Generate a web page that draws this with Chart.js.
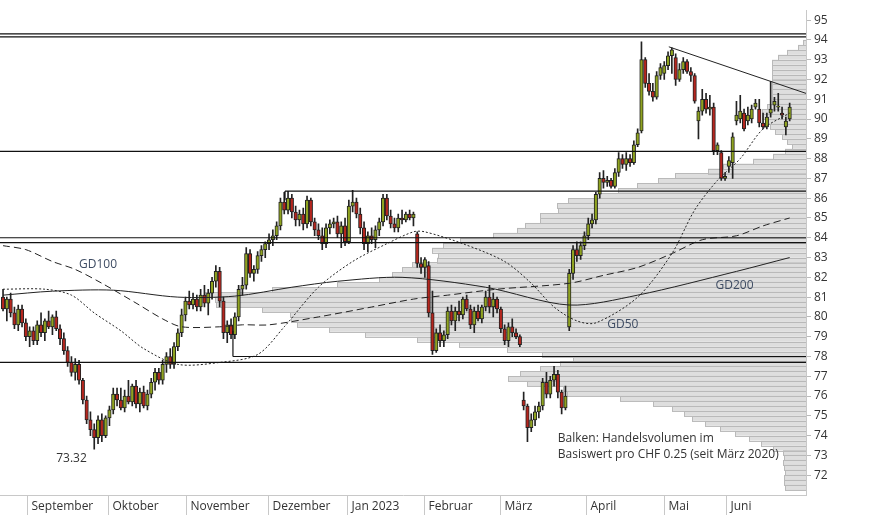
<!DOCTYPE html>
<html><head><meta charset="utf-8">
<script src="https://cdn.jsdelivr.net/npm/chart.js@4"></script>
<style>html,body{margin:0;padding:0;background:#fff}#w{width:874px;height:515px}</style>
</head><body><div id="w"><canvas id="c"></canvas></div>
<script>
// OHLC per trading day [open, high, low, close]
const ohlc = [
[81.0,81.4,80.3,80.4],[80.4,81.0,79.8,80.9],[80.9,81.2,80.0,80.2],[80.2,80.5,79.4,79.6],[79.6,80.6,79.3,80.4],
[80.4,80.6,79.5,79.7],[79.7,79.9,78.8,79.0],[79.0,79.5,78.5,79.3],[79.3,79.5,78.6,78.8],[78.8,79.8,78.6,79.6],
[79.6,80.2,79.0,79.2],[79.2,79.9,78.8,79.8],[79.8,80.3,79.4,79.5],[79.5,80.1,79.1,80.0],[80.0,80.3,79.3,79.4],
[79.4,79.6,78.6,78.9],[78.9,79.2,78.1,78.3],[78.3,78.5,77.5,77.7],[77.7,78.0,77.0,77.2],[77.2,77.9,76.8,77.6],
[77.6,77.8,76.6,76.8],[76.8,76.9,75.6,75.8],[75.8,76.0,74.6,74.8],[74.8,75.2,74.0,74.3],[74.3,74.6,73.32,73.9],
[73.9,75.0,73.6,74.8],[74.8,75.1,73.7,74.0],[74.0,75.0,73.9,74.9],[74.9,75.5,74.5,75.3],[75.3,76.4,75.1,76.1],
[76.1,76.4,75.5,75.8],[75.8,76.4,75.3,75.4],[75.4,76.3,75.2,76.0],[76.0,76.8,75.6,75.7],[75.7,76.6,75.5,76.5],
[76.5,76.8,75.4,75.6],[75.6,76.4,75.2,76.2],[76.2,76.5,75.4,75.5],[75.5,76.3,75.3,76.1],[76.1,76.9,75.9,76.7],
[76.7,77.4,76.3,77.2],[77.2,77.4,76.6,76.8],[76.8,77.8,76.6,77.6],[77.6,78.2,77.2,78.0],[78.0,78.4,77.4,77.6],
[77.6,78.7,77.4,78.5],[78.5,79.4,78.3,79.2],[79.2,80.4,79.0,80.1],[80.1,81.0,79.8,80.8],[80.8,81.3,80.4,80.6],
[80.6,81.2,80.4,80.9],[80.9,81.1,80.3,80.5],[80.5,81.4,80.3,81.1],[81.1,81.6,80.5,80.7],[80.7,81.4,80.1,81.2],
[81.2,82.0,80.9,81.8],[81.8,82.6,81.5,82.3],[82.3,82.5,80.5,80.8],[80.8,81.0,78.9,79.2],[79.2,79.8,78.7,79.6],
[79.6,79.9,78.9,79.1],[79.1,80.2,78.9,80.0],[80.0,81.6,79.8,81.4],[81.4,82.0,81.1,81.6],[81.6,83.5,81.4,83.2],
[83.2,83.4,82.0,82.2],[82.2,82.6,81.8,82.4],[82.4,83.3,82.2,83.1],[83.1,83.6,82.8,83.4],[83.4,83.8,83.0,83.7],
[83.7,84.2,83.4,83.9],[83.9,84.4,83.6,84.1],[84.1,84.8,83.9,84.6],[84.6,86.0,84.4,85.8],[85.8,86.3,85.2,85.4],
[85.4,86.35,85.2,86.0],[86.0,86.2,85.0,85.3],[85.3,85.6,84.6,84.9],[84.9,85.4,84.6,85.2],[85.2,85.5,84.4,84.7],
[84.7,86.1,84.5,85.9],[85.9,86.0,84.6,84.8],[84.8,85.0,84.1,84.4],[84.4,84.7,83.9,84.1],[84.1,84.5,83.4,83.7],
[83.7,84.7,83.5,84.5],[84.5,84.9,84.2,84.7],[84.7,85.0,84.5,84.8],[84.8,85.1,84.0,84.2],[84.2,84.8,83.5,84.6],
[84.6,85.0,83.6,83.8],[83.8,85.9,83.7,85.6],[85.6,86.4,85.3,85.8],[85.8,86.0,85.0,85.2],[85.2,85.5,84.2,84.5],
[84.5,84.8,83.4,83.7],[83.7,84.3,83.3,84.1],[84.1,84.5,83.7,83.9],[83.9,84.6,83.5,84.4],[84.4,85.0,84.1,84.8],
[84.8,86.2,84.6,86.0],[86.0,86.2,84.9,85.1],[85.1,85.4,84.5,84.7],[84.7,85.0,84.3,84.5],[84.5,85.2,84.3,85.0],
[85.0,85.4,84.7,84.9],[84.9,85.3,84.8,85.2],[85.2,85.4,84.9,85.0],[85.0,85.3,84.6,85.2],[84.2,84.3,82.5,82.7],
[82.7,83.0,82.2,82.5],[82.5,83.0,82.0,82.9],[82.6,82.8,80.0,80.2],[80.2,81.3,78.1,78.3],[78.3,79.4,78.2,79.2],
[79.2,79.6,78.5,78.8],[78.8,79.3,78.5,79.1],[79.1,80.5,78.9,80.3],[80.3,80.6,79.6,79.8],[79.8,80.5,79.3,80.3],
[80.3,80.8,79.8,80.1],[80.1,81.0,79.9,80.9],[80.9,81.1,80.3,80.4],[80.4,80.6,79.4,79.6],[79.6,80.5,79.2,80.3],
[80.3,80.6,79.8,79.9],[79.9,80.6,79.7,80.5],[80.5,81.3,80.3,81.0],[81.0,81.6,80.2,80.5],[80.5,81.2,80.0,80.9],
[80.9,81.0,80.2,80.4],[80.4,80.5,79.2,79.4],[79.4,79.6,78.6,78.8],[78.8,79.7,78.5,79.5],[79.5,79.9,79.0,79.2],
[79.2,79.4,78.9,79.0],[79.0,79.1,78.5,78.6],[75.8,76.2,75.3,75.5],[75.5,75.6,73.7,74.4],[74.4,75.1,74.2,74.8],
[74.8,75.5,74.5,75.2],[75.2,75.7,74.9,75.5],[75.5,76.9,75.3,76.7],[76.7,77.2,75.9,76.1],[76.1,77.0,75.9,76.8],
[76.8,77.5,76.5,77.1],[77.1,77.3,75.9,76.2],[76.2,76.3,75.1,75.4],[75.4,76.5,75.3,76.0],[79.5,82.4,79.3,82.2],
[82.2,83.6,81.9,83.4],[83.4,83.8,82.8,83.1],[83.1,83.8,82.9,83.6],[83.6,84.3,83.4,84.1],[84.1,85.0,83.9,84.7],
[84.7,85.2,84.5,84.9],[84.9,86.3,84.7,86.2],[86.2,87.3,86.0,87.0],[87.0,87.4,86.5,86.8],[86.8,87.1,86.6,86.9],
[86.9,87.0,86.5,86.6],[86.6,87.5,86.5,87.3],[87.3,88.3,87.1,88.0],[88.0,88.2,87.5,87.7],[87.7,88.3,87.4,88.0],
[88.0,88.2,87.6,87.8],[87.8,88.9,87.7,88.7],[88.7,89.5,88.6,89.3],[89.4,93.9,89.3,93.0],[93.0,93.1,91.6,91.8],
[91.8,92.3,91.2,91.4],[91.4,91.8,90.9,91.1],[91.1,92.4,91.0,92.2],[92.2,92.8,92.0,92.6],[92.3,92.9,92.0,92.7],
[92.7,93.4,92.5,93.2],[93.2,93.6,92.3,93.5],[93.1,93.3,91.7,92.0],[92.0,92.8,91.9,92.5],[92.5,93.1,92.3,92.9],
[92.9,93.0,92.3,92.4],[92.4,92.6,91.9,92.2],[92.2,92.3,90.8,90.9],[89.9,90.6,89.0,90.4],[90.4,91.5,90.2,91.0],
[91.0,91.3,90.3,90.5],[90.5,91.2,90.2,90.6],[90.6,90.8,88.2,88.4],[88.4,88.8,88.2,88.7],[88.3,88.4,86.9,87.0],
[87.0,87.3,86.9,87.1],[87.6,88.1,87.3,87.9],[87.8,89.3,87.0,89.1],[89.9,90.9,89.7,90.2],[90.0,91.2,89.8,90.4],
[90.3,90.5,89.4,89.5],[89.9,90.6,89.7,90.2],[90.0,90.7,89.8,90.5],[90.6,91.0,90.5,90.8],[90.5,91.0,89.6,89.8],
[89.8,90.3,89.5,89.6],[89.6,90.3,89.5,90.1],[90.3,91.9,90.1,90.5],[90.7,91.1,90.4,90.9],[90.6,91.3,90.4,90.6],
[90.3,90.6,90.0,90.2],[89.6,90.1,89.2,89.9],[90.0,90.8,89.9,90.6]
];
// moving averages: [day index, value]
const gd50 = [[0,81.4],[11,81.4],[18,81.1],[24,80.2],[31,79.3],[37,78.4],[46,77.6],[57,77.7],[67,78.1],[74,79.5],[83,81.5],[92,82.8],[101,83.7],[108,84.3],[111,84.3],[121,83.7],[132,82.8],[139,81.7],[145,80.5],[151,79.8],[156,79.7],[167,81.0],[176,83.2],[182,85.4],[188,86.9],[194,88.0],[200,89.5],[207,90.3]];
const gd100 = [[0,83.6],[6,83.4],[13,82.8],[19,82.4],[26,81.7],[35,80.7],[42,79.9],[47,79.5],[57,79.5],[63,79.6],[70,79.6],[83,80.0],[97,80.5],[108,80.9],[117,81.1],[130,81.4],[149,81.7],[158,82.1],[167,82.5],[176,83.2],[184,83.9],[193,84.1],[200,84.6],[207,85.0]];
const gd200 = [[0,81.1],[13,81.3],[29,81.35],[46,81.0],[61,81.05],[76,81.5],[88,81.8],[105,82.0],[127,81.5],[149,80.6],[167,81.1],[193,82.3],[207,83.0]];
// volume profile: bin bottom price (step 0.25) and volume
const volPrices = [];
const volValues = [21,22,22,21,22,23,22,23,33,45,57,71,86,101,114,122,134,153,186,239,243,279,298,286,266,246,233,264,299,347,389,441,477,509,515,516,544,590,591,601,534,469,427,414,404,394,369,368,374,363,346,313,289,281,266,266,248,249,238,206,188,169,148,131,98,83,53,33,21,14,19,24,31,36,41,44,44,39,34,34,34,34,34,34,34,34,34,28,19,8,3];
for (let k=0;k<volValues.length;k++) volPrices.push(71.25+0.25*k);
// horizontal levels [fromDay, toDay, price]
const levels = [[-1,212,94.3],[-1,212,94.15],[-1,212,88.37],[74.2,212,86.36],[-1,212,84.0],[-1,212,83.75],[60.5,212,78.0],[-1,212,77.7]];
const connectors = [[60.5,79.3,78.0],[74.2,85.9,86.36]];
const trend = [[175.2,93.65],[212,91.25]];
const monthPos = [6.3,27.6,48.2,69.7,90.5,110.8,130.8,153.4,173.9,190.3];
const monthLabels = ['September','Oktober','November','Dezember','Jan 2023','Februar','März','April','Mai','Juni'];
const notes = [
 {x:20, y:82.65, t:'GD100', c:'#3e4c63'},
 {x:159, y:79.6, t:'GD50', c:'#3e4c63'},
 {x:187.5, y:81.6, t:'GD200', c:'#3e4c63'},
 {x:14, y:72.85, t:'73.32', c:'#333'},
 {x:146, y:73.85, t:'Balken: Handelsvolumen im', c:'#333'},
 {x:146, y:73.05, t:'Basiswert pro CHF 0.25 (seit März 2020)', c:'#333'}
];

const GREEN='#8fa320', RED='#b5261e';
const wicks = ohlc.map((d,i)=>({x:i,y:[d[2],d[1]]}));
const bodies = ohlc.map((d,i)=>({x:i,y:[Math.min(d[0],d[3]),Math.max(d[0],d[3])+ (Math.abs(d[0]-d[3])<0.05?0.05:0)]}));
const bodyCol = ohlc.map(d=>d[3]>=d[0]?GREEN:RED);

const lineDs = (pts,dash,w)=>({type:'line',data:pts.map(p=>({x:p[0],y:p[1]})),borderColor:'#222',borderWidth:w||1,borderDash:dash||[],pointRadius:0,tension:0.3,order:1});
const datasets = [
 {type:'bar',data:wicks,backgroundColor:'#222',barThickness:1,grouped:false,order:3},
 {type:'bar',data:bodies,backgroundColor:bodyCol,borderColor:'#222',borderWidth:1,borderSkipped:false,barThickness:3.5,grouped:false,order:2},
 lineDs(gd50,[2,2]),lineDs(gd100,[7,4]),lineDs(gd200,[])
];
levels.forEach(l=>datasets.push({type:'line',data:[{x:l[0],y:l[2]},{x:l[1],y:l[2]}],borderColor:'#111',borderWidth:1.2,pointRadius:0,order:0}));
connectors.forEach(c=>datasets.push({type:'line',data:[{x:c[0],y:c[1]},{x:c[0],y:c[2]}],borderColor:'#111',borderWidth:1.2,pointRadius:0,order:0}));
datasets.push({type:'line',data:trend.map(p=>({x:p[0],y:p[1]})),borderColor:'#222',borderWidth:1,pointRadius:0,order:0});

const profile = {id:'profile',beforeDatasetsDraw(ch){
  const ctx=ch.ctx, y=ch.scales.y, v=ch.scales.vol, a=ch.chartArea;
  ctx.save(); ctx.beginPath(); ctx.rect(a.left,a.top,a.right-a.left,a.bottom-a.top); ctx.clip();
  volPrices.forEach((p,k)=>{
    const x0=v.getPixelForValue(volValues[k]), x1=v.getPixelForValue(0);
    const yt=y.getPixelForValue(p+0.25), yb=y.getPixelForValue(p);
    ctx.fillStyle='#dedede'; ctx.fillRect(x0,yt,x1-x0,yb-yt);
    ctx.strokeStyle='#b9b9b9'; ctx.lineWidth=1; ctx.strokeRect(Math.round(x0)+0.5,Math.round(yt)+0.5,x1-x0,yb-yt);
  });
  ctx.restore();
},afterDatasetsDraw(ch){
  const ctx=ch.ctx,x=ch.scales.x,y=ch.scales.y;
  ctx.save(); ctx.font='12px "Open Sans"'; ctx.textBaseline='middle';
  notes.forEach(n=>{ctx.fillStyle=n.c; ctx.fillText(n.t,x.getPixelForValue(n.x),y.getPixelForValue(n.y));});
  ctx.strokeStyle='#c8c8c8'; ctx.lineWidth=1;
  monthPos.forEach((m,k)=>{
    const px=Math.round(x.getPixelForValue(m))+0.5;
    ctx.beginPath(); ctx.moveTo(px,x.top); ctx.lineTo(px,x.bottom); ctx.stroke();
    ctx.fillStyle='#333'; ctx.fillText(monthLabels[k],px+4,x.bottom-8);
  });
  ctx.restore();
}};

new Chart(document.getElementById('c'),{
 data:{datasets},
 plugins:[profile],
 options:{responsive:true,maintainAspectRatio:false,animation:false,
  layout:{padding:0},
  plugins:{legend:{display:false},tooltip:{enabled:false}},
  scales:{
   x:{type:'linear',min:-0.8,max:211.3,offset:false,
      afterFit(s){s.height=20;},
      ticks:{display:false},
      grid:{display:false},border:{color:'#c8c8c8'}},
   vol:{type:'linear',display:false,min:0,max:806,reverse:true,axis:'x'},
   y:{type:'linear',position:'right',min:71.0,max:95.5,
      afterBuildTicks(s){const t=[];for(let v=72;v<=95;v++)t.push({value:v});s.ticks=t;},
      afterFit(s){s.width=68;},
      ticks:{color:'#333',padding:3,font:{family:'Open Sans',size:12}},
      grid:{drawOnChartArea:false,tickLength:5,color:'#bbb'},border:{color:'#c8c8c8'}}
  }}
});
</script></body></html>
